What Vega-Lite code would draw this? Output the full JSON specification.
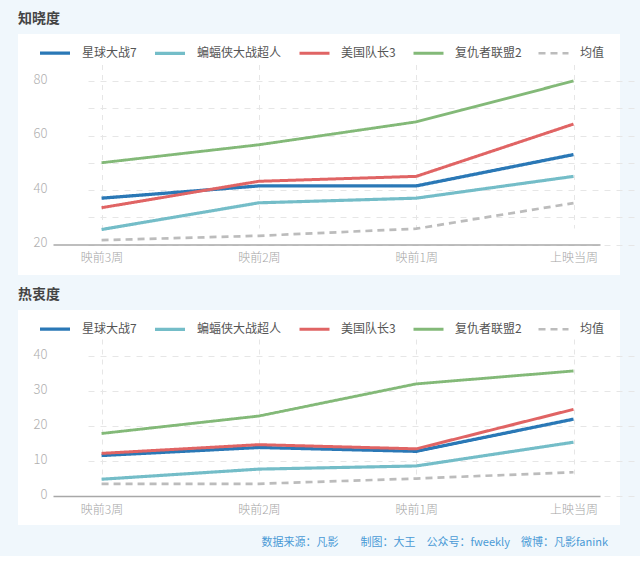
{
  "$schema": "https://vega.github.io/schema/vega-lite/v6.json",
  "background": "#f0f7fc",
  "padding": {"left": 18, "right": 20, "top": 12, "bottom": 8},
  "datasets": {
    "aware": [
      {"week": "映前3周", "film": "均值", "v": 21.6},
      {"week": "映前2周", "film": "均值", "v": 23.2},
      {"week": "映前1周", "film": "均值", "v": 25.8},
      {"week": "上映当周", "film": "均值", "v": 35.2},
      {"week": "映前3周", "film": "蝙蝠侠大战超人", "v": 25.5},
      {"week": "映前2周", "film": "蝙蝠侠大战超人", "v": 35.3},
      {"week": "映前1周", "film": "蝙蝠侠大战超人", "v": 37},
      {"week": "上映当周", "film": "蝙蝠侠大战超人", "v": 45},
      {"week": "映前3周", "film": "复仇者联盟2", "v": 50},
      {"week": "映前2周", "film": "复仇者联盟2", "v": 56.6},
      {"week": "映前1周", "film": "复仇者联盟2", "v": 65},
      {"week": "上映当周", "film": "复仇者联盟2", "v": 80},
      {"week": "映前3周", "film": "星球大战7", "v": 37},
      {"week": "映前2周", "film": "星球大战7", "v": 41.5},
      {"week": "映前1周", "film": "星球大战7", "v": 41.5},
      {"week": "上映当周", "film": "星球大战7", "v": 53},
      {"week": "映前3周", "film": "美国队长3", "v": 33.5},
      {"week": "映前2周", "film": "美国队长3", "v": 43.2},
      {"week": "映前1周", "film": "美国队长3", "v": 45},
      {"week": "上映当周", "film": "美国队长3", "v": 64.2}
    ],
    "enthuse": [
      {"week": "映前3周", "film": "均值", "v": 3.5},
      {"week": "映前2周", "film": "均值", "v": 3.5},
      {"week": "映前1周", "film": "均值", "v": 5},
      {"week": "上映当周", "film": "均值", "v": 6.8},
      {"week": "映前3周", "film": "蝙蝠侠大战超人", "v": 4.8},
      {"week": "映前2周", "film": "蝙蝠侠大战超人", "v": 7.7},
      {"week": "映前1周", "film": "蝙蝠侠大战超人", "v": 8.6},
      {"week": "上映当周", "film": "蝙蝠侠大战超人", "v": 15.4},
      {"week": "映前3周", "film": "复仇者联盟2", "v": 17.9},
      {"week": "映前2周", "film": "复仇者联盟2", "v": 22.9},
      {"week": "映前1周", "film": "复仇者联盟2", "v": 32.1},
      {"week": "上映当周", "film": "复仇者联盟2", "v": 35.8},
      {"week": "映前3周", "film": "星球大战7", "v": 11.6},
      {"week": "映前2周", "film": "星球大战7", "v": 13.9},
      {"week": "映前1周", "film": "星球大战7", "v": 12.8},
      {"week": "上映当周", "film": "星球大战7", "v": 22},
      {"week": "映前3周", "film": "美国队长3", "v": 12.2},
      {"week": "映前2周", "film": "美国队长3", "v": 14.7},
      {"week": "映前1周", "film": "美国队长3", "v": 13.5},
      {"week": "上映当周", "film": "美国队长3", "v": 24.8}
    ]
  },
  "config": {
    "font": "Noto Sans CJK SC",
    "view": {"fill": "white", "stroke": null},
    "title": {"anchor": "start", "fontSize": 14, "fontWeight": "bold", "color": "#444444", "offset": 8},
    "concat": {"spacing": 13},
    "axisX": {
      "title": null, "labelAngle": 0, "ticks": false, "grid": true,
      "gridDash": [5, 5], "gridColor": "#e6e6e6", "domainColor": "#a8a8a8", "domainWidth": 1.5,
      "labelColor": "#a6a6a6", "labelFontSize": 12, "labelFontWeight": 300, "labelPadding": 8
    },
    "axisY": {
      "title": null, "ticks": false, "domain": false, "grid": true,
      "gridDash": [6, 6], "gridColor": "#e6e6e6",
      "labelColor": "#b0b0b0", "labelFontSize": 13, "labelFontWeight": 300, "labelPadding": 6, "labelOffset": -2, "offset": -35
    }
  },
  "title": {
    "text": "数据来源：凡影　　制图：大王　公众号：fweekly　微博：凡影fanink",
    "orient": "bottom", "anchor": "end", "fontSize": 11, "fontWeight": "normal", "color": "#4a9ad6", "offset": 12, "dx": -12
  },
  "vconcat": [
    {
      "title": "知晓度",
      "width": 602,
      "height": 241,
      "data": {"name": "aware"},
      "mark": {"type": "line", "strokeCap": "butt"},
      "encoding": {
        "x": {
          "field": "week", "type": "ordinal",
          "sort": ["映前3周", "映前2周", "映前1周", "上映当周"],
          "scale": {"type": "point", "range": [35, 582], "padding": 0.2386, "align": 0.647},
          "axis": {"offset": -30.5}
        },
        "y": {
          "field": "v", "type": "quantitative",
          "scale": {"domain": [20, 80], "range": [210.5, 47], "zero": false, "nice": false},
          "axis": {"values": [20, 30, 40, 50, 60, 70, 80], "labelExpr": "datum.value % 20 == 0 ? datum.label : ''"}
        },
        "color": {
          "field": "film", "type": "nominal",
          "scale": {
            "domain": ["星球大战7", "蝙蝠侠大战超人", "美国队长3", "复仇者联盟2", "均值"],
            "range": ["#2a78b6", "#74bdc8", "#e06464", "#83b978", "#bcbcbc"]
          },
          "legend": {
            "orient": "none", "legendX": 20, "legendY": 2, "direction": "horizontal", "title": null,
            "symbolType": "stroke", "symbolSize": 900, "symbolStrokeWidth": 3.5,
            "labelFontSize": 12, "labelColor": "#555555", "labelOffset": 10, "columnPadding": 11
          }
        },
        "strokeDash": {
          "field": "film", "type": "nominal",
          "scale": {
            "domain": ["星球大战7", "蝙蝠侠大战超人", "美国队长3", "复仇者联盟2", "均值"],
            "range": [[1, 0], [1, 0], [1, 0], [1, 0], [7, 5]]
          },
          "legend": {
            "orient": "none", "legendX": 20, "legendY": 2, "direction": "horizontal", "title": null,
            "symbolType": "stroke", "symbolSize": 900, "symbolStrokeWidth": 3.5,
            "labelFontSize": 12, "labelColor": "#555555", "labelOffset": 10, "columnPadding": 11
          }
        },
        "strokeWidth": {
          "field": "film", "type": "nominal", "legend": null,
          "scale": {
            "domain": ["星球大战7", "蝙蝠侠大战超人", "美国队长3", "复仇者联盟2", "均值"],
            "range": [3.3, 2.7, 4.4, 2.7, 3]
          }
        }
      }
    },
    {
      "title": "热衷度",
      "width": 602,
      "height": 215,
      "data": {"name": "enthuse"},
      "mark": {"type": "line", "strokeCap": "butt"},
      "encoding": {
        "x": {
          "field": "week", "type": "ordinal",
          "sort": ["映前3周", "映前2周", "映前1周", "上映当周"],
          "scale": {"type": "point", "range": [35, 582], "padding": 0.2386, "align": 0.647},
          "axis": {"offset": -29}
        },
        "y": {
          "field": "v", "type": "quantitative",
          "scale": {"domain": [0, 40], "range": [186, 46.3], "nice": false},
          "axis": {"values": [0, 10, 20, 30, 40]}
        },
        "color": {
          "field": "film", "type": "nominal",
          "scale": {
            "domain": ["星球大战7", "蝙蝠侠大战超人", "美国队长3", "复仇者联盟2", "均值"],
            "range": ["#2a78b6", "#74bdc8", "#e06464", "#83b978", "#bcbcbc"]
          },
          "legend": {
            "orient": "none", "legendX": 20, "legendY": 2, "direction": "horizontal", "title": null,
            "symbolType": "stroke", "symbolSize": 900, "symbolStrokeWidth": 3.5,
            "labelFontSize": 12, "labelColor": "#555555", "labelOffset": 10, "columnPadding": 11
          }
        },
        "strokeDash": {
          "field": "film", "type": "nominal",
          "scale": {
            "domain": ["星球大战7", "蝙蝠侠大战超人", "美国队长3", "复仇者联盟2", "均值"],
            "range": [[1, 0], [1, 0], [1, 0], [1, 0], [7, 5]]
          },
          "legend": {
            "orient": "none", "legendX": 20, "legendY": 2, "direction": "horizontal", "title": null,
            "symbolType": "stroke", "symbolSize": 900, "symbolStrokeWidth": 3.5,
            "labelFontSize": 12, "labelColor": "#555555", "labelOffset": 10, "columnPadding": 11
          }
        },
        "strokeWidth": {
          "field": "film", "type": "nominal", "legend": null,
          "scale": {
            "domain": ["星球大战7", "蝙蝠侠大战超人", "美国队长3", "复仇者联盟2", "均值"],
            "range": [3.3, 2.7, 4.4, 2.7, 3]
          }
        }
      }
    }
  ],
  "resolve": {
    "scale": {"x": "independent", "y": "independent", "color": "independent", "strokeDash": "independent", "strokeWidth": "independent"},
    "legend": {"color": "independent", "strokeDash": "independent"}
  }
}
